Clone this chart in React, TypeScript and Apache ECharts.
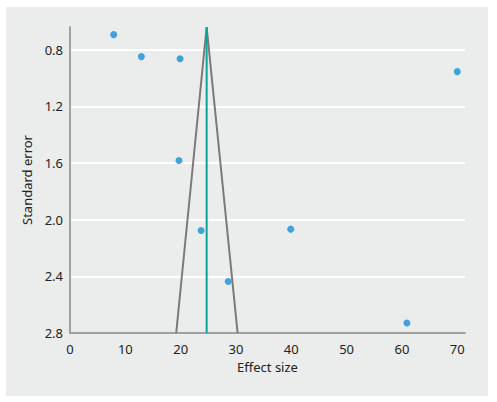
import React, { useEffect, useRef } from "react";
import * as echarts from "echarts";

// Study estimates: effect size and standard error
const effectSizes = [7.9, 12.9, 19.9, 19.7, 23.7, 28.6, 39.9, 60.9, 70.0];
const standardErrors = [0.694, 0.849, 0.864, 1.582, 2.076, 2.437, 2.067, 2.729, 0.955];

// Pooled estimate and funnel limits
const pooledEffect = 24.7;
const funnelTopSE = 0.64;
const funnelBottomSE = 2.8;
const funnelLower = 19.2;
const funnelUpper = 30.3;

const yTicks = [0.8, 1.2, 1.6, 2.0, 2.4, 2.8];

const FONT = "Noto Sans";

export default function App() {
  const ref = useRef<HTMLDivElement>(null);

  useEffect(() => {
    if (!ref.current) return;
    const chart = echarts.init(ref.current, undefined, { renderer: "svg" });
    const points = effectSizes.map((x, i) => [x, standardErrors[i]]);
    chart.setOption({
      animation: false,
      backgroundColor: "#ffffff",
      graphic: [
        {
          type: "rect",
          z: -10,
          silent: true,
          shape: { x: 6, y: 7, width: 482, height: 389 },
          style: { fill: "#ebecec" },
        },
      ],
      grid: { left: 70, right: 32, top: 27, bottom: 69 },
      xAxis: {
        type: "value",
        min: 0,
        max: 71.4,
        interval: 10,
        name: "Effect size",
        nameLocation: "middle",
        nameGap: 27,
        nameTextStyle: { color: "#222", fontSize: 13, fontFamily: FONT },
        axisLine: { show: true, lineStyle: { color: "#a0a0a0", width: 2 } },
        axisTick: { show: false },
        splitLine: { show: false },
        axisLabel: {
          showMaxLabel: false,
          color: "#222",
          fontSize: 13,
          fontFamily: FONT,
          margin: 9,
        },
      },
      yAxis: {
        type: "value",
        inverse: true,
        min: funnelTopSE,
        max: funnelBottomSE,
        name: "Standard error",
        nameLocation: "middle",
        nameGap: 31,
        nameTextStyle: { color: "#222", fontSize: 13, fontFamily: FONT },
        axisLine: { show: true, lineStyle: { color: "#a0a0a0", width: 2 } },
        axisTick: { show: false, customValues: yTicks },
        splitLine: { show: true, lineStyle: { color: "#ffffff", width: 2 } },
        axisLabel: {
          customValues: yTicks,
          formatter: (v: number) => v.toFixed(1),
          color: "#222",
          fontSize: 13,
          fontFamily: FONT,
          margin: 7,
        },
      },
      series: [
        {
          type: "line",
          data: [
            [funnelLower, funnelBottomSE],
            [pooledEffect, funnelTopSE],
            [funnelUpper, funnelBottomSE],
          ],
          symbol: "none",
          lineStyle: { color: "#7a7a7a", width: 2 },
          z: 2,
        },
        {
          type: "line",
          data: [
            [pooledEffect, funnelTopSE],
            [pooledEffect, funnelBottomSE],
          ],
          symbol: "none",
          lineStyle: { color: "#0aa596", width: 2 },
          z: 3,
        },
        {
          type: "scatter",
          data: points,
          symbolSize: 7,
          itemStyle: { color: "#1590d8" },
          z: 4,
        },
      ],
    });
    return () => chart.dispose();
  }, []);

  return (
    <div
      ref={ref}
      style={{ position: "absolute", left: 0, top: 0, width: 497, height: 402 }}
    />
  );
}
